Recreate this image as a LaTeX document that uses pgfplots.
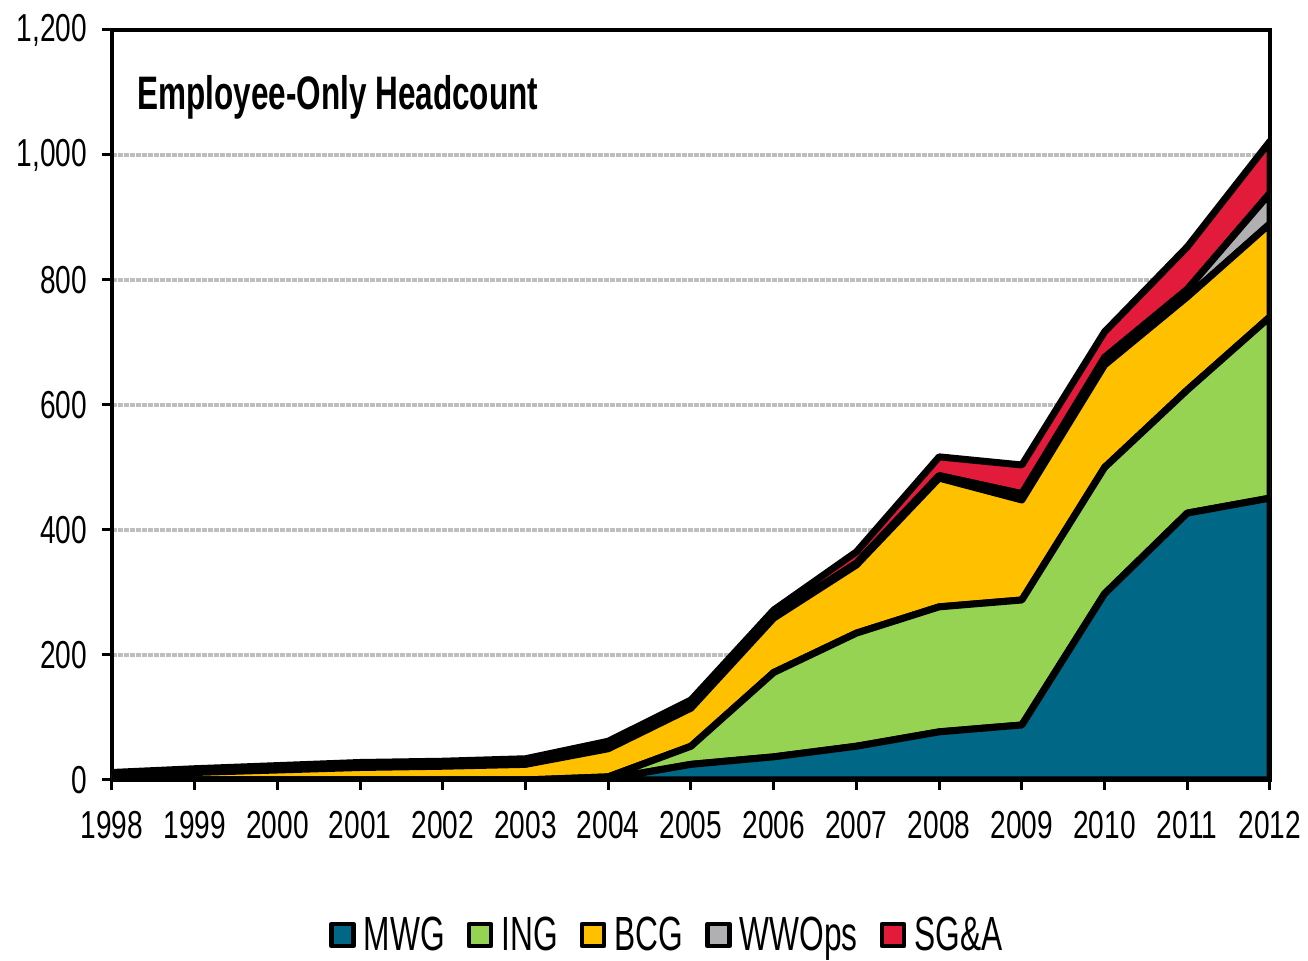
\documentclass[border=0pt]{standalone}
\usepackage{fontspec}
\setmainfont[FakeStretch=0.72]{Liberation Sans}
\newfontfamily\titlefont[FakeStretch=0.67]{Liberation Sans}
\newfontfamily\legfont[FakeStretch=0.66]{Liberation Sans}
\usepackage{pgfplots}
\pgfplotsset{compat=1.18}
\definecolor{cMWG}{RGB}{0,104,135}
\definecolor{cING}{RGB}{151,211,82}
\definecolor{cBCG}{RGB}{255,192,0}
\definecolor{cWWO}{RGB}{176,176,179}
\definecolor{cSGA}{RGB}{227,27,58}
\definecolor{cGrid}{RGB}{190,190,190}
\begin{document}
\begin{tikzpicture}
\begin{axis}[
  scale only axis,
  width=579pt, height=375pt,
  xmin=1998, xmax=2012, ymin=0, ymax=1200,
  xtick={1998,...,2012}, ytick={0,200,...,1200},
  tick pos=left,
  stack plots=y,
  axis line style={line width=2pt},
  tick align=outside, major tick length=5pt,
  tick style={black, line width=1.5pt},
  ymajorgrids,
  major grid style={cGrid, line width=2pt, dash pattern=on 2.4pt off 0.6pt},
  /pgf/number format/assume math mode=true,
  x tick label style={/pgf/number format/1000 sep={}, yshift=-7pt},
  y tick label style={/pgf/number format/1000 sep={,}, xshift=-4pt},
  tick label style={font=\fontsize{19.5}{22}\selectfont},
  legend columns=5,
  legend style={at={(0.48,-0.2067)}, anchor=center, draw=none, fill=none,
    font=\legfont\fontsize{24}{28}\selectfont,
    /tikz/every even column/.style={column sep=9pt}},
  legend image code/.code={\draw[#1, draw=black, line width=2.2pt] (0pt,-5.5pt) rectangle (11pt,5.5pt); \path (12.5pt,0pt);},
  every axis plot/.append style={draw=black, line width=3.5pt, line join=round},
]
\addplot[fill=cMWG] coordinates {(1998,0) (1999,0) (2000,0) (2001,0) (2002,0) (2003,0) (2004,2) (2005,25) (2006,37) (2007,54) (2008,77) (2009,88) (2010,298) (2011,427) (2012,451)} \closedcycle;
\addplot[fill=cING] coordinates {(1998,0) (1999,0) (2000,0) (2001,0) (2002,0) (2003,0) (2004,3) (2005,29) (2006,135) (2007,181) (2008,200) (2009,200) (2010,202) (2011,197) (2012,290)} \closedcycle;
\addplot[fill=cBCG] coordinates {(1998,6) (1999,12) (2000,16) (2001,20) (2002,22) (2003,25) (2004,45) (2005,61) (2006,87) (2007,109) (2008,206) (2009,160) (2010,164) (2011,149) (2012,149)} \closedcycle;
\addplot[fill=cWWO] coordinates {(1998,2) (1999,2) (2000,2) (2001,2) (2002,2) (2003,2) (2004,3) (2005,3) (2006,3) (2007,3) (2008,4) (2009,10) (2010,12) (2011,12) (2012,49)} \closedcycle;
\addplot[fill=cSGA] coordinates {(1998,4) (1999,4) (2000,5) (2001,6) (2002,6) (2003,7) (2004,9) (2005,10) (2006,10) (2007,18) (2008,30) (2009,46) (2010,41) (2011,68) (2012,83)} \closedcycle;
\legend{MWG, ING, BCG, WWOps, SG\&A}
\node[anchor=west, inner sep=0pt, font=\titlefont\bfseries\fontsize{23.5}{26}\selectfont] at (rel axis cs:0.0216,0.91) {Employee-Only Headcount};
\end{axis}
\pgfresetboundingbox
\path[use as bounding box] ([shift={(-56pt,-90.5pt)}]current axis.south west) rectangle ([shift={(19pt,15pt)}]current axis.north east);
\end{tikzpicture}
\end{document}
